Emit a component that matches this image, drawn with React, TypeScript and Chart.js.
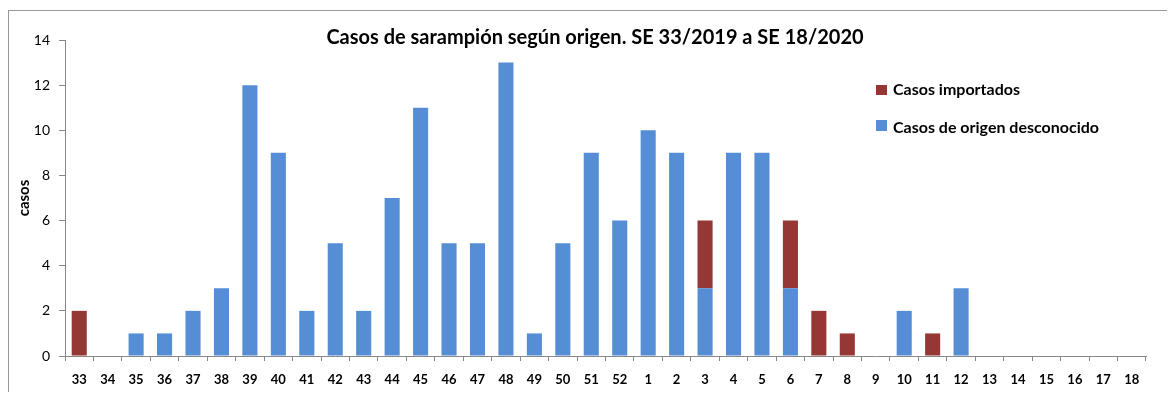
import React, { useEffect, useRef } from "react";
import { Chart, registerables } from "chart.js";

Chart.register(...registerables);

const weeks = [
  "33", "34", "35", "36", "37", "38", "39", "40", "41", "42", "43", "44", "45", "46", "47", "48", "49", "50", "51", "52",
  "1", "2", "3", "4", "5", "6", "7", "8", "9", "10", "11", "12", "13", "14", "15", "16", "17", "18",
];
const desconocido = [0, 0, 1, 1, 2, 3, 12, 9, 2, 5, 2, 7, 11, 5, 5, 13, 1, 5, 9, 6, 10, 9, 3, 9, 9, 3, 0, 0, 0, 2, 0, 3, 0, 0, 0, 0, 0, 0];
const importados = [2, 0, 0, 0, 0, 0, 0, 0, 0, 0, 0, 0, 0, 0, 0, 0, 0, 0, 0, 0, 0, 0, 3, 0, 0, 3, 2, 1, 0, 0, 1, 0, 0, 0, 0, 0, 0, 0];
const yTicks = [0, 2, 4, 6, 8, 10, 12, 14];

const TITLE = "Casos de sarampión según origen. SE 33/2019 a SE 18/2020";
const Y_TITLE = "casos";
const LEGEND_IMPORT = "Casos importados";
const LEGEND_DESC = "Casos de origen desconocido";

const BLUE = "#558ED5";
const RED = "#953735";
const FONT = "Lato, 'Open Sans', sans-serif";

const W = 1167;
const H = 384;

export default function App() {
  const ref = useRef<HTMLCanvasElement | null>(null);

  useEffect(() => {
    if (!ref.current) return;
    const overlay = {
      id: "overlay",
      afterDraw(chart: any) {
        const ctx = chart.ctx;
        ctx.save();
        ctx.fillStyle = "#000";
        // title
        ctx.font = `bold 20px ${FONT}`;
        ctx.textAlign = "center";
        ctx.textBaseline = "middle";
        ctx.fillText(TITLE, 587, 30);
        // y title
        ctx.save();
        ctx.translate(16, 190);
        ctx.rotate(-Math.PI / 2);
        ctx.font = `bold 15px ${FONT}`;
        ctx.fillText(Y_TITLE, 0, 0);
        ctx.restore();
        // legend
        ctx.textAlign = "left";
        ctx.font = `bold 16px ${FONT}`;
        ctx.fillStyle = RED;
        ctx.fillRect(868, 77, 11, 10);
        ctx.fillStyle = BLUE;
        ctx.fillRect(868, 112, 11, 11);
        ctx.fillStyle = "#000";
        ctx.fillText(LEGEND_IMPORT, 885, 82);
        ctx.fillText(LEGEND_DESC, 885, 120);
        ctx.restore();
      },
    };
    const chart = new Chart(ref.current, {
      type: "bar",
      data: {
        labels: weeks,
        datasets: [
          {
            label: LEGEND_DESC,
            data: desconocido,
            backgroundColor: BLUE,
            barPercentage: 0.53,
            categoryPercentage: 1,
          },
          {
            label: LEGEND_IMPORT,
            data: importados,
            backgroundColor: RED,
            barPercentage: 0.53,
            categoryPercentage: 1,
          },
        ],
      },
      options: {
        animation: false,
        responsive: false,
        layout: { padding: { top: 32, right: 29, left: 0, bottom: 0 } },
        plugins: { legend: { display: false }, title: { display: false }, tooltip: { enabled: false } },
        scales: {
          x: {
            stacked: true,
            grid: { drawOnChartArea: false, drawTicks: true, tickLength: 5, color: "#888", offset: true },
            border: { color: "#888" },
            ticks: { font: { family: FONT, size: 13, weight: "bold" }, color: "#000", padding: 11, autoSkip: false, maxRotation: 0 },
            afterFit: (s: any) => { s.height = 36; },
          },
          y: {
            stacked: true,
            min: 0,
            max: 14,
            afterBuildTicks: (s: any) => { s.ticks = yTicks.map((v) => ({ value: v })); },
            grid: { drawOnChartArea: false, drawTicks: true, tickLength: 6, color: "#888" },
            border: { color: "#888" },
            ticks: { font: { family: FONT, size: 14 }, color: "#000", padding: 9 },
            afterFit: (s: any) => { s.width = 57; },
          },
        },
      } as any,
      plugins: [overlay],
    });
    return () => chart.destroy();
  }, []);

  return (
    <div style={{ position: "relative", width: 1167, height: 384, overflow: "hidden" }}>
      <div
        style={{
          position: "absolute",
          left: 0,
          top: 2,
          width: 1200,
          height: 420,
          border: "1px solid #999",
          boxSizing: "border-box",
        }}
      />
      <canvas ref={ref} width={W} height={H} style={{ position: "absolute", left: 0, top: 0, width: W, height: H }} />
    </div>
  );
}
